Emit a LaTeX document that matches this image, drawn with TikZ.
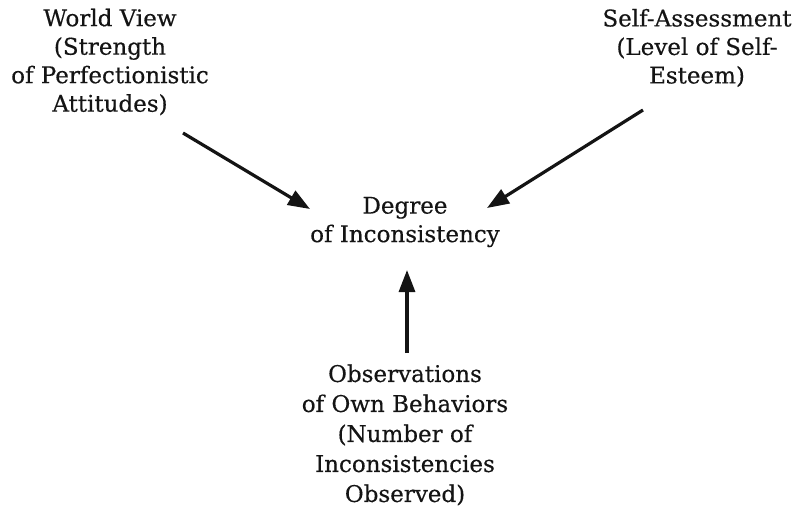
\documentclass[tikz,border=0pt]{standalone}
\usepackage{fontspec}
\setmainfont[FakeBold=0.4]{DejaVu Serif}
\usetikzlibrary{positioning,arrows.meta}
\definecolor{inkDark}{RGB}{20,20,20}

\begin{document}
\begin{tikzpicture}[
  x=1pt,y=-1pt,
  term/.style={align=center,inner sep=0pt,text=inkDark,
               font=\fontsize{23}{28.5}\selectfont},
  infl/.style={-{Triangle[length=22pt,width=16pt]},line width=3.2pt,draw=inkDark}
]
\useasboundingbox (0,0) rectangle (800,515);

% ---- factors (corners) ----
\node[term] (wv) at (110,62)  {World View\\(Strength\\of Perfectionistic\\Attitudes)};
\node[term] (sa) at (697,48)  {Self-Assessment\\(Level of Self-\\Esteem)};

% ---- outcome (centre) ----
\node[term] (deg) at (405,222) {Degree\\of Inconsistency};

% ---- observations (bottom) ----
\node[term,font=\fontsize{23}{30}\selectfont] (obs) at (405,435)
  {Observations\\of Own Behaviors\\(Number of\\Inconsistencies\\Observed)};

% ---- influences ----
\draw[infl] ([xshift=73pt,yshift=-71pt]wv.center) -- ([xshift=-95pt,yshift=13pt]deg.center);
\draw[infl] ([xshift=-54pt,yshift=-62pt]sa.center) -- ([xshift=82pt,yshift=14pt]deg.center);
\draw[infl] ([xshift=2pt,yshift=82pt]obs.center) -- ([xshift=2pt,yshift=-48pt]deg.center);

\end{tikzpicture}
\end{document}
